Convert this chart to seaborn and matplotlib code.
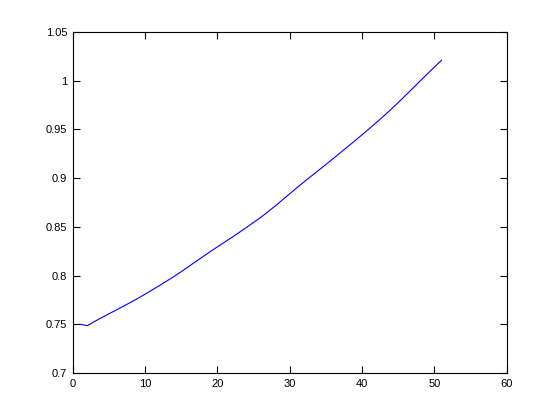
import matplotlib
matplotlib.use("Agg")
import matplotlib.pyplot as plt
import seaborn as sns
import pandas as pd

x_vals = list(range(1, 52))
y_vals = [0.7500, 0.7485, 0.7528, 0.7568, 0.7607, 0.7646, 0.7685, 0.7725, 0.7766, 0.7809,
          0.7853, 0.7898, 0.7944, 0.7991, 0.8040, 0.8092, 0.8143, 0.8194, 0.8245, 0.8295,
          0.8343, 0.8392, 0.8442, 0.8493, 0.8545, 0.8598, 0.8655, 0.8715, 0.8777, 0.8840,
          0.8902, 0.8963, 0.9022, 0.9081, 0.9140, 0.9200, 0.9261, 0.9322, 0.9383, 0.9445,
          0.9508, 0.9572, 0.9638, 0.9706, 0.9776, 0.9848, 0.9921, 0.9995, 1.0068, 1.0140,
          1.0210]
x_ticks = [0, 10, 20, 30, 40, 50, 60]
x_tick_labels = ["0", "10", "20", "30", "40", "50", "60"]
y_ticks = [0.7, 0.75, 0.8, 0.85, 0.9, 0.95, 1.0, 1.05]
y_tick_labels = ["0.7", "0.75", "0.8", "0.85", "0.9", "0.95", "1", "1.05"]

sns.set_style("ticks")
plt.rcParams['font.family'] = ['Liberation Sans', 'DejaVu Sans']

df = pd.DataFrame({"x": x_vals, "y": y_vals})
fig = plt.figure(figsize=(5.6, 4.2), dpi=100)
fig.patch.set_facecolor("white")
ax = fig.add_axes([0.130, 0.112, 0.775, 0.812])
sns.lineplot(data=df, x="x", y="y", ax=ax, color=(0, 0, 1), linewidth=0.8)

ax.set_xlim(0, 60)
ax.set_ylim(0.7, 1.05)
ax.set_xticks(x_ticks)
ax.set_xticklabels(x_tick_labels)
ax.set_yticks(y_ticks)
ax.set_yticklabels(y_tick_labels)
ax.set_xlabel("")
ax.set_ylabel("")
for s in ax.spines.values():
    s.set_visible(True)
    s.set_linewidth(0.8)
    s.set_color("black")
ax.tick_params(direction="in", length=5, width=0.8, top=True, right=True,
               labelsize=8, colors="black", pad=4)
fig.savefig("out.png", dpi=100, facecolor="white")
